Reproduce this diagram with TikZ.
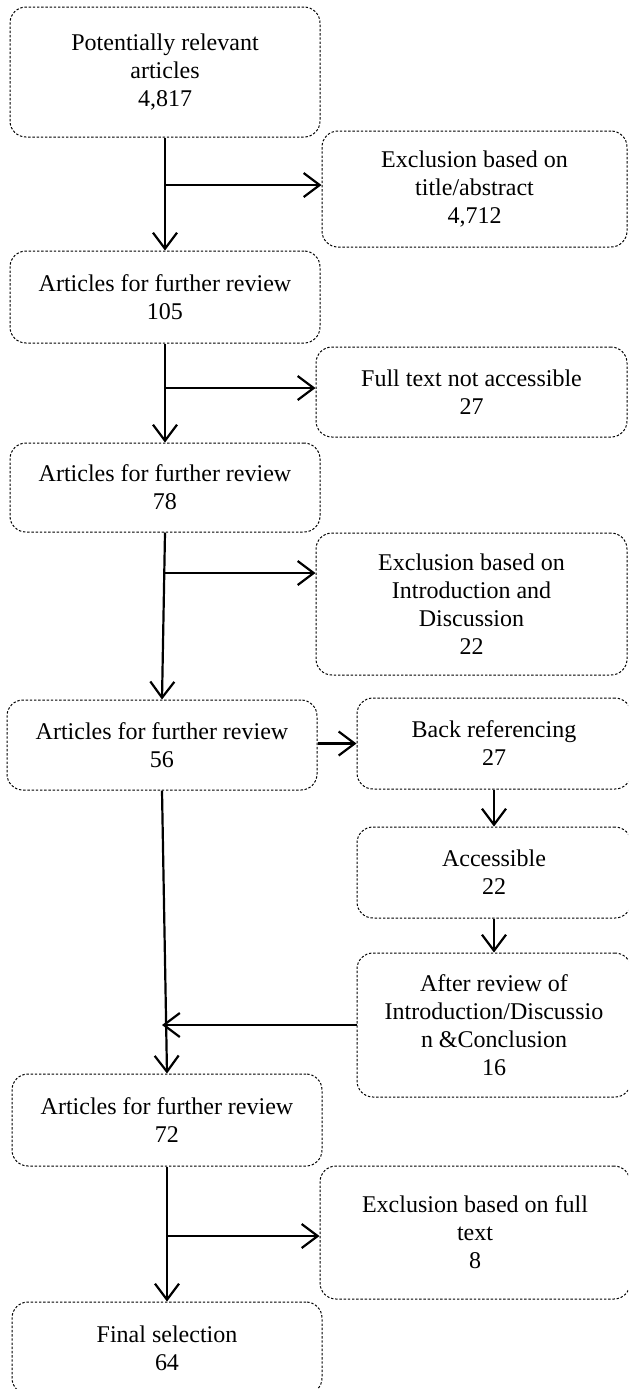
\documentclass[tikz,border=0pt]{standalone}
\usepackage{fontspec}
\setmainfont{Liberation Serif}
\usetikzlibrary{arrows.meta,calc}
\begin{document}
\begin{tikzpicture}[x=0.5pt,y=-0.5pt,
  box/.style={draw=black, line width=0.5pt, dash pattern=on 1.2pt off 0.9pt,
    rounded corners=8pt, align=center, inner sep=0pt,
    font=\fontsize{12}{14}\selectfont},
  arr/.style={-{Straight Barb[length=8pt,width=12pt]}, line width=1.1pt}]
\useasboundingbox (0,0) rectangle (628,1389);
\clip (0,0) rectangle (628,1389);

\node[box, minimum width=155pt, minimum height=65pt] (pot) at (165,72) {Potentially relevant\\articles\\4,817};
\node[box, minimum width=152.5pt, minimum height=58pt] (ex1) at (474.5,189) {Exclusion based on\\title/abstract\\4,712};
\node[box, minimum width=155pt, minimum height=46pt] (a105) at (165,297) {Articles for further review\\105};
\node[box, minimum width=155.5pt, minimum height=45pt] (ft) at (471.5,392) {Full text not accessible\\27};
\node[box, minimum width=155pt, minimum height=44.5pt] (a78) at (165,487.5) {Articles for further review\\78};
\node[box, minimum width=155.5pt, minimum height=71pt] (ex2) at (471.5,604) {Exclusion based on\\Introduction and\\Discussion\\22};
\node[box, minimum width=155pt, minimum height=45pt] (a56) at (162,745) {Articles for further review\\56};
\node[box, minimum width=137pt, minimum height=45.5pt] (back) at (494,743.5) {Back referencing\\27};
\node[box, minimum width=137pt, minimum height=45.5pt] (acc) at (494,872.5) {Accessible\\22};
\node[box, minimum width=137pt, minimum height=72pt] (after) at (494,1025) {After review of\\Introduction/Discussio\\n \&Conclusion\\16};
\node[box, minimum width=155pt, minimum height=46pt] (a72) at (167,1120) {Articles for further review\\72};
\node[box, minimum width=155pt, minimum height=66.5pt] (ex3) at (475,1232.5) {Exclusion based on full\\text\\8};
\node[box, minimum width=155pt, minimum height=46pt] (final) at (167,1348) {Final selection\\64};

\coordinate (b1) at (165,185);
\coordinate (b2) at (165,388);
\coordinate (b3) at (165,573);
\coordinate (b5) at (167,1236);

\draw[arr] (pot.south) -- (a105.north);
\draw[arr] (b1) -- (b1 -| ex1.west);
\draw[arr] (a105.south) -- (a78.north);
\draw[arr] (b2) -- (b2 -| ft.west);
\draw[arr] (a78.south) -- (a56.north);
\draw[arr] (b3) -- (b3 -| ex2.west);
\draw[arr] (a56.east |- back.west) -- (back.west);
\draw[arr] (back.south) -- (acc.north);
\draw[arr] (acc.south) -- (after.north);
\draw[arr] (a56.south) -- (a72.north);
\draw[arr] (after.west) -- (after.west -| a56.south);
\draw[arr] (a72.south) -- (final.north);
\draw[arr] (b5) -- (b5 -| ex3.west);
\end{tikzpicture}
\end{document}
